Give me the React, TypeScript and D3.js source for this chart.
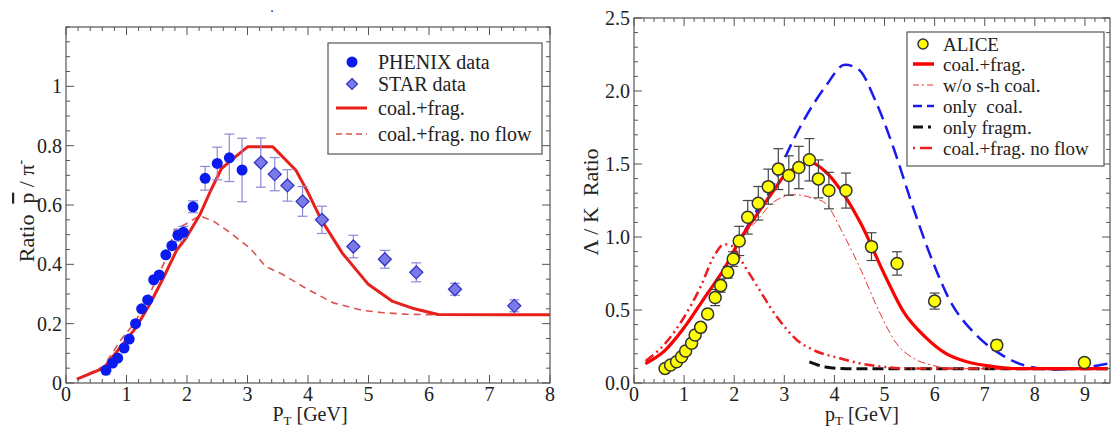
import React from 'react';
import * as d3 from 'd3';

// ---------- Left panel data (p̄/π⁻) ----------
const phenixX = [0.66, 0.77, 0.855, 0.96, 1.045, 1.15, 1.25, 1.35, 1.45, 1.54, 1.65, 1.75, 1.85, 1.94, 2.1, 2.3, 2.5, 2.7, 2.91];
const phenixY = [0.043, 0.067, 0.084, 0.118, 0.148, 0.2, 0.25, 0.28, 0.348, 0.364, 0.432, 0.463, 0.498, 0.508, 0.594, 0.69, 0.74, 0.759, 0.718];
const phenixErr = [0, 0, 0, 0, 0, 0, 0, 0, 0, 0, 0, 0, 0.02, 0.02, 0.02, 0.04, 0.055, 0.08, 0.107];

const starX = [3.22, 3.45, 3.66, 3.91, 4.23, 4.75, 5.27, 5.79, 6.43, 7.41];
const starY = [0.743, 0.704, 0.666, 0.612, 0.55, 0.46, 0.417, 0.373, 0.316, 0.26];
const starErr = [0.083, 0.056, 0.053, 0.05, 0.046, 0.038, 0.03, 0.032, 0.02, 0.02];

const lCoalFragX = [0.18, 0.62, 0.91, 1.15, 1.39, 1.62, 1.83, 1.98, 2.21, 2.39, 2.57, 2.8, 3.0, 3.42, 3.8, 3.98, 4.22, 4.57, 4.99, 5.4, 5.76, 6.15, 8.0];
const lCoalFragY = [0.013, 0.05, 0.123, 0.185, 0.267, 0.359, 0.448, 0.488, 0.566, 0.648, 0.723, 0.762, 0.796, 0.796, 0.717, 0.65, 0.55, 0.437, 0.334, 0.275, 0.25, 0.231, 0.23];

const lNoFlowX = [0.18, 0.62, 0.91, 1.15, 1.39, 1.62, 1.8, 1.98, 2.21, 2.45, 2.69, 3.04, 3.3, 3.59, 4.0, 4.42, 4.9, 5.24, 5.6, 6.1];
const lNoFlowY = [0.013, 0.056, 0.146, 0.207, 0.303, 0.404, 0.516, 0.536, 0.564, 0.544, 0.51, 0.455, 0.393, 0.365, 0.315, 0.27, 0.245, 0.237, 0.232, 0.23];

const leftXTicks = [0, 1, 2, 3, 4, 5, 6, 7, 8];
const leftYTicks = [0, 0.2, 0.4, 0.6, 0.8, 1];
const leftYLabels = ['0', '0.2', '0.4', '0.6', '0.8', '1'];

// ---------- Right panel data (Λ/K) ----------
const aliceX = [0.62, 0.73, 0.85, 0.95, 1.03, 1.15, 1.22, 1.33, 1.47, 1.62, 1.73, 1.87, 1.98, 2.1, 2.27, 2.48, 2.68, 2.88, 3.09, 3.29, 3.5, 3.68, 3.89, 4.23, 4.74, 5.25, 6.0, 7.24, 8.99];
const aliceY = [0.1, 0.123, 0.146, 0.18, 0.219, 0.272, 0.329, 0.381, 0.473, 0.585, 0.667, 0.758, 0.849, 0.973, 1.135, 1.231, 1.345, 1.465, 1.421, 1.476, 1.529, 1.398, 1.318, 1.318, 0.934, 0.819, 0.561, 0.259, 0.14];
const aliceErr = [0, 0, 0, 0, 0, 0, 0, 0, 0, 0.055, 0.045, 0.04, 0.05, 0.1, 0.115, 0.115, 0.12, 0.14, 0.135, 0.145, 0.145, 0.13, 0.125, 0.12, 0.095, 0.08, 0.055, 0.035, 0.02];

const rCoalFragX = [0.23, 0.62, 0.98, 1.41, 1.83, 2.11, 2.47, 2.82, 3.04, 3.32, 3.46, 3.82, 4.17, 4.53, 5.02, 5.38, 5.81, 6.23, 6.66, 7.15, 7.65, 9.46];
const rCoalFragY = [0.133, 0.224, 0.37, 0.585, 0.8, 0.98, 1.162, 1.334, 1.437, 1.483, 1.517, 1.449, 1.3, 1.09, 0.728, 0.487, 0.316, 0.201, 0.144, 0.114, 0.098, 0.098];

const woShX = [0.23, 0.62, 0.98, 1.41, 1.83, 2.11, 2.47, 2.75, 2.98, 3.2, 3.58, 3.82, 4.17, 4.53, 4.88, 5.24, 5.59, 5.95, 6.37, 7.0];
const woShY = [0.133, 0.224, 0.37, 0.585, 0.8, 0.97, 1.12, 1.23, 1.275, 1.29, 1.265, 1.231, 1.025, 0.773, 0.499, 0.27, 0.167, 0.121, 0.098, 0.098];

const onlyCoalX = [0.23, 0.62, 0.98, 1.41, 1.83, 2.11, 2.47, 2.78, 3.05, 3.39, 3.82, 4.21, 4.49, 4.81, 5.17, 5.52, 5.95, 6.3, 6.8, 7.3, 7.79, 8.36, 8.79, 9.46];
const onlyCoalY = [0.133, 0.224, 0.37, 0.585, 0.8, 0.98, 1.19, 1.35, 1.57, 1.8, 2.03, 2.18, 2.146, 1.94, 1.62, 1.254, 0.842, 0.568, 0.339, 0.201, 0.121, 0.092, 0.098, 0.133];

const onlyFragX = [3.5, 3.82, 4.24, 9.46];
const onlyFragY = [0.145, 0.11, 0.098, 0.098];

const rNoFlowX = [0.23, 0.62, 0.98, 1.33, 1.6, 1.8, 1.95, 2.1, 2.41, 2.85, 3.25, 3.58, 4.11, 4.5, 5.0, 5.5, 9.46];
const rNoFlowY = [0.15, 0.27, 0.44, 0.66, 0.87, 0.95, 0.94, 0.86, 0.69, 0.454, 0.295, 0.226, 0.169, 0.135, 0.11, 0.1, 0.098];

const rightXTicks = [0, 1, 2, 3, 4, 5, 6, 7, 8, 9];
const rightYTicks = [0, 0.5, 1, 1.5, 2, 2.5];
const rightYLabels = ['0.0', '0.5', '1.0', '1.5', '2.0', '2.5'];

const FONT = "'Liberation Serif','Times New Roman',serif";
const zip = (a: number[], b: number[]) => a.map((v, i) => [v, b[i]] as [number, number]);

type Scale = d3.ScaleLinear<number, number>;

function Axes(props: {
  x: Scale; y: Scale; xMajor: number[]; yMajor: number[]; yLabels: string[];
  xMinorStep: number; yMinorStep: number;
}) {
  const { x, y, xMajor, yMajor, yLabels, xMinorStep, yMinorStep } = props;
  const [x0, x1] = x.domain();
  const [y0, y1] = y.domain();
  const xMin = d3.range(Math.round((x1 - x0) / xMinorStep) + 1).map(i => x0 + i * xMinorStep);
  const yMin = d3.range(Math.round((y1 - y0) / yMinorStep) + 1).map(i => y0 + i * yMinorStep);
  const isMajor = (v: number, arr: number[]) => arr.some(m => Math.abs(m - v) < 1e-6);
  const L = x.range()[0], R = x.range()[1], B = y.range()[0], T = y.range()[1];
  const col = '#555';
  const ticks: JSX.Element[] = [];
  xMin.forEach((v, i) => {
    const len = isMajor(v, xMajor) ? 8 : 4;
    const px = x(v);
    ticks.push(<line key={'xb' + i} x1={px} x2={px} y1={B} y2={B - len} stroke={col} strokeWidth={1} />);
    ticks.push(<line key={'xt' + i} x1={px} x2={px} y1={T} y2={T + len} stroke={col} strokeWidth={1} />);
  });
  yMin.forEach((v, i) => {
    const len = isMajor(v, yMajor) ? 8 : 4;
    const py = y(v);
    ticks.push(<line key={'yl' + i} x1={L} x2={L + len} y1={py} y2={py} stroke={col} strokeWidth={1} />);
    ticks.push(<line key={'yr' + i} x1={R} x2={R - len} y1={py} y2={py} stroke={col} strokeWidth={1} />);
  });
  return (
    <g>
      <rect x={L} y={T} width={R - L} height={B - T} fill="none" stroke={col} strokeWidth={1.2} />
      {ticks}
      {xMajor.map(v => (
        <text key={'xl' + v} x={x(v)} y={401} textAnchor="middle" fontSize={20} fill="#222" fontFamily={FONT}>{v}</text>
      ))}
      {yMajor.map((v, i) => (
        <text key={'yl' + v} x={L - 4} y={y(v) + 7} textAnchor="end" fontSize={20} fill="#222" fontFamily={FONT}>{yLabels[i]}</text>
      ))}
    </g>
  );
}

function ErrBars(props: { x: Scale; y: Scale; xs: number[]; ys: number[]; errs: number[]; color: string; cap: number }) {
  const { x, y, xs, ys, errs, color, cap } = props;
  return (
    <g stroke={color} strokeWidth={1.2}>
      {xs.map((v, i) => errs[i] > 0 ? (
        <g key={i}>
          <line x1={x(v)} x2={x(v)} y1={y(ys[i] - errs[i])} y2={y(ys[i] + errs[i])} />
          <line x1={x(v) - cap} x2={x(v) + cap} y1={y(ys[i] - errs[i])} y2={y(ys[i] - errs[i])} />
          <line x1={x(v) - cap} x2={x(v) + cap} y1={y(ys[i] + errs[i])} y2={y(ys[i] + errs[i])} />
        </g>
      ) : null)}
    </g>
  );
}

export default function App() {
  // Left panel scales
  const lx = d3.scaleLinear().domain([0, 8]).range([66, 550]);
  const ly = d3.scaleLinear().domain([0, 1.2]).range([383, 27]);
  // Right panel scales
  const rx = d3.scaleLinear().domain([0, 9.5]).range([634, 1110]);
  const ry = d3.scaleLinear().domain([0, 2.5]).range([383, 18]);

  const lLine = d3.line<[number, number]>().x(d => lx(d[0])).y(d => ly(d[1])).curve(d3.curveLinear);
  const rLine = d3.line<[number, number]>().x(d => rx(d[0])).y(d => ry(d[1])).curve(d3.curveMonotoneX);

  const diamond = (cx: number, cy: number, s: number) => `M${cx},${cy - s}L${cx + s},${cy}L${cx},${cy + s}L${cx - s},${cy}Z`;

  return (
    <svg width={1114} height={428} style={{ position: 'absolute', left: 0, top: 0, background: '#fff' }} fontFamily={FONT}>
      <defs>
        <clipPath id="clipL"><rect x={66} y={27} width={484} height={356} /></clipPath>
        <clipPath id="clipR"><rect x={634} y={18} width={476} height={365} /></clipPath>
      </defs>
      <rect x={0} y={0} width={1114} height={428} fill="#fff" />
      <text x={272} y={12} fontSize={14} fill="#222" textAnchor="middle">.</text>

      {/* ===== Left panel ===== */}
      <g clipPath="url(#clipL)">
        <path d={lLine(zip(lNoFlowX, lNoFlowY)) || ''} fill="none" stroke="#d9534f" strokeWidth={1.6} strokeDasharray="7,5" />
        <path d={lLine(zip(lCoalFragX, lCoalFragY)) || ''} fill="none" stroke="#e8201c" strokeWidth={3} strokeLinejoin="round" />
        <ErrBars x={lx} y={ly} xs={phenixX} ys={phenixY} errs={phenixErr} color="#8a8ad8" cap={5} />
        <ErrBars x={lx} y={ly} xs={starX} ys={starY} errs={starErr} color="#8a8ad8" cap={5} />
        {phenixX.map((v, i) => (
          <circle key={'ph' + i} cx={lx(v)} cy={ly(phenixY[i])} r={5.5} fill="#0b1bf0" />
        ))}
        {starX.map((v, i) => (
          <path key={'st' + i} d={diamond(lx(v), ly(starY[i]), 6.5)} fill="#7b7be8" stroke="#3535c8" strokeWidth={1.3} />
        ))}
      </g>
      <Axes x={lx} y={ly} xMajor={leftXTicks} yMajor={leftYTicks} yLabels={leftYLabels} xMinorStep={0.2} yMinorStep={0.05} />

      {/* Left legend */}
      <g>
        <rect x={328} y={43} width={214} height={111} fill="#fff" stroke="#555" strokeWidth={1.2} />
        <circle cx={352} cy={62} r={5.5} fill="#0b1bf0" />
        <path d={diamond(352, 84, 5.5)} fill="#7b7be8" stroke="#3535c8" strokeWidth={1.2} />
        <line x1={336} x2={367} y1={108} y2={108} stroke="#e8201c" strokeWidth={3} />
        <line x1={336} x2={367} y1={134} y2={134} stroke="#d9534f" strokeWidth={1.6} strokeDasharray="6,4" />
        <text x={378} y={69} fontSize={20} fill="#222">PHENIX data</text>
        <text x={378} y={91} fontSize={20} fill="#222">STAR data</text>
        <text x={378} y={115} fontSize={20} fill="#222">coal.+frag.</text>
        <text x={378} y={141} fontSize={20} fill="#222">coal.+frag. no flow</text>
      </g>

      {/* Left axis titles */}
      <text transform="translate(34,211) rotate(-90)" textAnchor="middle" fontSize={22} fill="#222">
        Ratio{'\u00a0\u00a0'}<tspan textDecoration="overline">p</tspan>{' / π'}<tspan dy={-9} fontSize={14}>-</tspan>
      </text>
      <text x={310} y={421} textAnchor="middle" fontSize={20} fill="#222">
        P<tspan dy={4} fontSize={13}>T</tspan><tspan dy={-4}> [GeV]</tspan>
      </text>

      {/* ===== Right panel ===== */}
      <g clipPath="url(#clipR)">
        <path d={rLine(zip(onlyCoalX, onlyCoalY)) || ''} fill="none" stroke="#1a1af0" strokeWidth={2.5} strokeDasharray="14,7" />
        <path d={rLine(zip(onlyFragX, onlyFragY)) || ''} fill="none" stroke="#111" strokeWidth={3} strokeDasharray="11,5" />
        <path d={rLine(zip(rNoFlowX, rNoFlowY)) || ''} fill="none" stroke="#ee1c1c" strokeWidth={2.5} strokeDasharray="10,4,2,4,2,4" />
        <path d={rLine(zip(woShX, woShY)) || ''} fill="none" stroke="#ee3030" strokeWidth={1} strokeDasharray="8,3,2,3" />
        <path d={rLine(zip(rCoalFragX, rCoalFragY)) || ''} fill="none" stroke="#ff0000" strokeWidth={3.2} />
        <ErrBars x={rx} y={ry} xs={aliceX} ys={aliceY} errs={aliceErr} color="#444" cap={5} />
        {aliceX.map((v, i) => (
          <circle key={'al' + i} cx={rx(v)} cy={ry(aliceY[i])} r={6} fill="#ffff00" stroke="#333" strokeWidth={1.5} />
        ))}
      </g>
      <Axes x={rx} y={ry} xMajor={rightXTicks} yMajor={rightYTicks} yLabels={rightYLabels} xMinorStep={0.2} yMinorStep={0.1} />

      {/* Right legend */}
      <g>
        <rect x={907} y={32} width={197} height={134} fill="#fff" stroke="#555" strokeWidth={1.2} />
        <circle cx={923} cy={44} r={5} fill="#ffff00" stroke="#333" strokeWidth={1.5} />
        <line x1={913} x2={934} y1={64} y2={64} stroke="#ff0000" strokeWidth={3.5} />
        <line x1={913} x2={934} y1={85} y2={85} stroke="#ee3030" strokeWidth={1} strokeDasharray="6,3,2,3" />
        <line x1={913} x2={934} y1={106} y2={106} stroke="#1a1af0" strokeWidth={2.5} strokeDasharray="9,5" />
        <line x1={913} x2={934} y1={127} y2={127} stroke="#111" strokeWidth={3} strokeDasharray="10,5,3,5" />
        <line x1={913} x2={934} y1={148} y2={148} stroke="#ee1c1c" strokeWidth={2.5} strokeDasharray="2,5,12,5" />
        <text x={943} y={51} fontSize={19} fill="#222">ALICE</text>
        <text x={943} y={71} fontSize={19} fill="#222">coal.+frag.</text>
        <text x={943} y={92} fontSize={19} fill="#222">w/o s-h coal.</text>
        <text x={943} y={113} fontSize={19} fill="#222">only{'\u00a0\u00a0'}coal.</text>
        <text x={943} y={134} fontSize={19} fill="#222">only fragm.</text>
        <text x={943} y={155} fontSize={19} fill="#222">coal.+frag. no flow</text>
      </g>

      {/* Right axis titles */}
      <text transform="translate(598,202) rotate(-90)" textAnchor="middle" fontSize={22} fill="#222">
        {'Λ / K\u00a0\u00a0Ratio'}
      </text>
      <text x={862} y={421} textAnchor="middle" fontSize={20} fill="#222">
        p<tspan dy={4} fontSize={13}>T</tspan><tspan dy={-4}> [GeV]</tspan>
      </text>
    </svg>
  );
}
